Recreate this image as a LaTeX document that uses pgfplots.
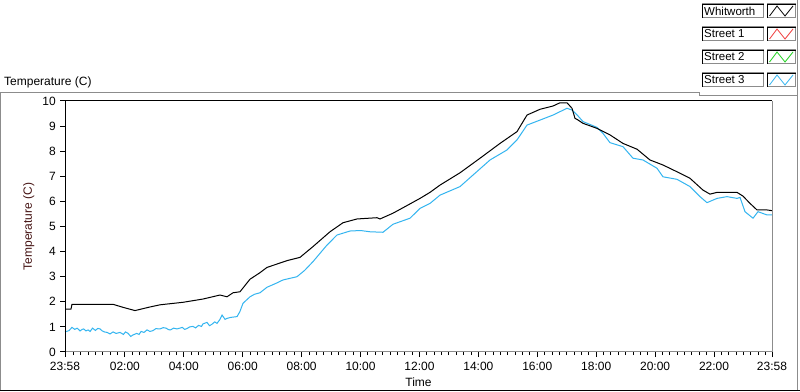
\documentclass[border=0pt]{standalone}
\usepackage{fontspec}
\setmainfont{Liberation Sans}
\usepackage{pgfplots}
\pgfplotsset{compat=1.18}
\definecolor{lvblue}{RGB}{51,181,240}
\definecolor{frgray}{RGB}{140,140,140}
\definecolor{lvred}{RGB}{240,60,60}
\definecolor{lvgreen}{RGB}{30,210,30}
\definecolor{ylab}{RGB}{70,20,20}
\begin{document}
\fontsize{12bp}{14bp}\selectfont
\begin{tikzpicture}
\path[use as bounding box] (0bp,0bp) rectangle (800bp,392bp);
\fill[white] (0bp,0bp) rectangle (800bp,392bp);
% outer frame
\draw[frgray, line width=1bp] (0.5bp,2bp) -- (0.5bp,299.5bp) -- (699.5bp,299.5bp) -- (699.5bp,296.5bp) -- (797.5bp,296.5bp);
\draw[frgray, line width=1bp] (797.5bp,392bp) -- (797.5bp,2bp);
\draw[black, line width=1.5bp] (0bp,1.5bp) -- (800bp,1.5bp);
% title
\node[anchor=base west, inner sep=0pt] at (4bp,306bp) {Temperature (C)};
% legend
\foreach \y/\name/\col in {374/Whitworth/black, 351/Street 1/lvred, 328/Street 2/lvgreen, 305/Street 3/lvblue}{
  \draw[frgray, fill=white, line width=1bp] (702.5bp,\y bp) rectangle (763.5bp,\y bp+14bp);
  \draw[black, line width=0.6bp] (702.5bp,\y bp) -- (702.5bp,\y bp+14bp) -- (763.5bp,\y bp+14bp);
  \node[anchor=west, inner sep=0pt] at (704bp,\y bp+7bp) {\fontsize{11.5bp}{13bp}\selectfont\name};
  \draw[frgray, fill=white, line width=1bp] (767.5bp,\y bp) rectangle (795.5bp,\y bp+14bp);
  \draw[black, line width=0.6bp] (767.5bp,\y bp) -- (767.5bp,\y bp+14bp) -- (795.5bp,\y bp+14bp);
  \draw[\col, line width=0.8bp] (769.5bp,\y bp+2bp) -- (777bp,\y bp+12bp) -- (785bp,\y bp+2bp) -- (793bp,\y bp+12bp);
}
\begin{axis}[
  at={(65bp,40bp)}, anchor=south west,
  scale only axis, width=707bp, height=251bp,
  xmin=-0.0333, xmax=23.9667, ymin=0, ymax=10,
  clip=false,
  axis line style={draw=none},
  xtick={-0.0333,2,4,6,8,10,12,14,16,18,20,22,23.9667},
  xticklabels={23:58,02:00,04:00,06:00,08:00,10:00,12:00,14:00,16:00,18:00,20:00,22:00,23:58},
  minor xtick={0,0.25,...,23.8},
  ytick={0,1,...,10},
  xtick pos=bottom, ytick pos=left,
  tick align=outside,
  major tick length=5bp, minor tick length=3bp,
  every tick/.style={black, line width=1bp},
  /pgf/number format/assume math mode=true,
  tick label style={font=\fontsize{12bp}{14bp}\selectfont},
  label style={font=\fontsize{12bp}{14bp}\selectfont},
  xticklabel style={yshift=-1bp},
  xlabel={Time},
  ylabel={Temperature (C)},
  ylabel style={color=ylab},
  xlabel style={yshift=1bp},
]
\addplot[lvblue, line width=1bp] coordinates {
(-0.033,0.80) (0.10,0.85) (0.204,0.98) (0.30,0.90) (0.38,0.95) (0.476,0.84) (0.55,0.90) (0.60,0.92) (0.68,0.84) (0.75,0.88)
(0.82,0.82) (0.90,0.95) (1.0,0.86) (1.08,0.94) (1.155,0.92) (1.22,0.85) (1.30,0.80) (1.40,0.78) (1.494,0.72) (1.6,0.80) (1.70,0.74)
(1.834,0.78) (1.95,0.70) (2.02,0.80) (2.10,0.75) (2.20,0.62) (2.275,0.68) (2.40,0.74) (2.48,0.70) (2.55,0.82) (2.65,0.78) (2.750,0.88)
(2.85,0.82) (2.95,0.85) (3.05,0.93) (3.192,0.92) (3.30,0.97) (3.40,0.95) (3.48,0.89) (3.55,0.88) (3.65,0.95) (3.769,0.92) (3.95,0.98)
(4.03,0.90) (4.1,0.93) (4.2,1.00) (4.312,1.02) (4.40,0.96) (4.5,1.06) (4.6,1.02) (4.651,1.12) (4.787,1.18) (4.87,1.05) (4.95,1.10) (5.05,1.20)
(5.126,1.14) (5.228,1.30) (5.30,1.47) (5.40,1.30) (5.466,1.34) (5.60,1.38) (5.806,1.41) (5.90,1.60)
(6.009,1.94) (6.247,2.20) (6.40,2.30) (6.586,2.36) (6.824,2.58) (7.10,2.72) (7.367,2.87) (7.842,3.00)
(8.10,3.25) (8.385,3.60) (8.860,4.26) (9.200,4.66) (9.641,4.82) (10.0,4.84) (10.320,4.79) (10.762,4.77)
(11.101,5.09) (11.678,5.33) (12.018,5.72) (12.357,5.92) (12.697,6.25) (13.376,6.59) (13.817,7.05)
(14.394,7.65) (14.971,8.05) (15.311,8.45) (15.650,9.04) (16.092,9.24) (16.533,9.44) (17.008,9.71)
(17.177,9.64) (17.347,9.45) (17.551,9.18) (18.026,8.95) (18.230,8.71) (18.467,8.34) (18.908,8.18)
(19.248,7.72) (19.587,7.65) (20.063,7.32) (20.266,6.98) (20.742,6.88) (21.183,6.59) (21.522,6.19)
(21.760,5.95) (22.100,6.12) (22.439,6.19) (22.779,6.12) (22.881,6.16) (23.050,5.59) (23.322,5.33)
(23.491,5.59) (23.797,5.46) (23.967,5.46)
};
\addplot[black, line width=1bp] coordinates {
(-0.033,1.71) (0.17,1.71) (0.204,1.90) (1.596,1.90) (1.936,1.78) (2.343,1.65) (2.8,1.78) (3.192,1.88)
(3.972,1.98) (4.651,2.11) (5.228,2.27) (5.466,2.20) (5.670,2.36) (5.907,2.40) (6.247,2.90) (6.586,3.16)
(6.824,3.37) (7.503,3.64) (7.944,3.77) (8.385,4.20) (8.962,4.79) (9.404,5.15) (9.879,5.30) (10.558,5.35)
(10.660,5.30) (11.101,5.53) (11.678,5.90) (12.018,6.12) (12.357,6.36) (12.697,6.65) (13.376,7.14)
(14.055,7.72) (14.733,8.31) (15.311,8.78) (15.650,9.44) (16.092,9.67) (16.533,9.80) (16.770,9.93)
(17.008,9.93) (17.177,9.71) (17.279,9.31) (17.347,9.27) (17.551,9.11) (18.026,8.91) (18.467,8.65)
(18.908,8.31) (19.384,8.08) (19.825,7.65) (20.266,7.45) (20.742,7.18) (21.183,6.92) (21.624,6.45)
(21.862,6.29) (22.100,6.36) (22.779,6.36) (22.983,6.21) (23.220,5.92) (23.457,5.66) (23.797,5.66)
(23.967,5.63)
};
\draw[frgray, line width=1bp] (rel axis cs:0,0) -- (rel axis cs:1,0) -- (rel axis cs:1,1);
\draw[black, line width=1bp] (rel axis cs:0,0) -- (rel axis cs:0,1) -- (rel axis cs:1,1);
\end{axis}
\end{tikzpicture}
\end{document}
